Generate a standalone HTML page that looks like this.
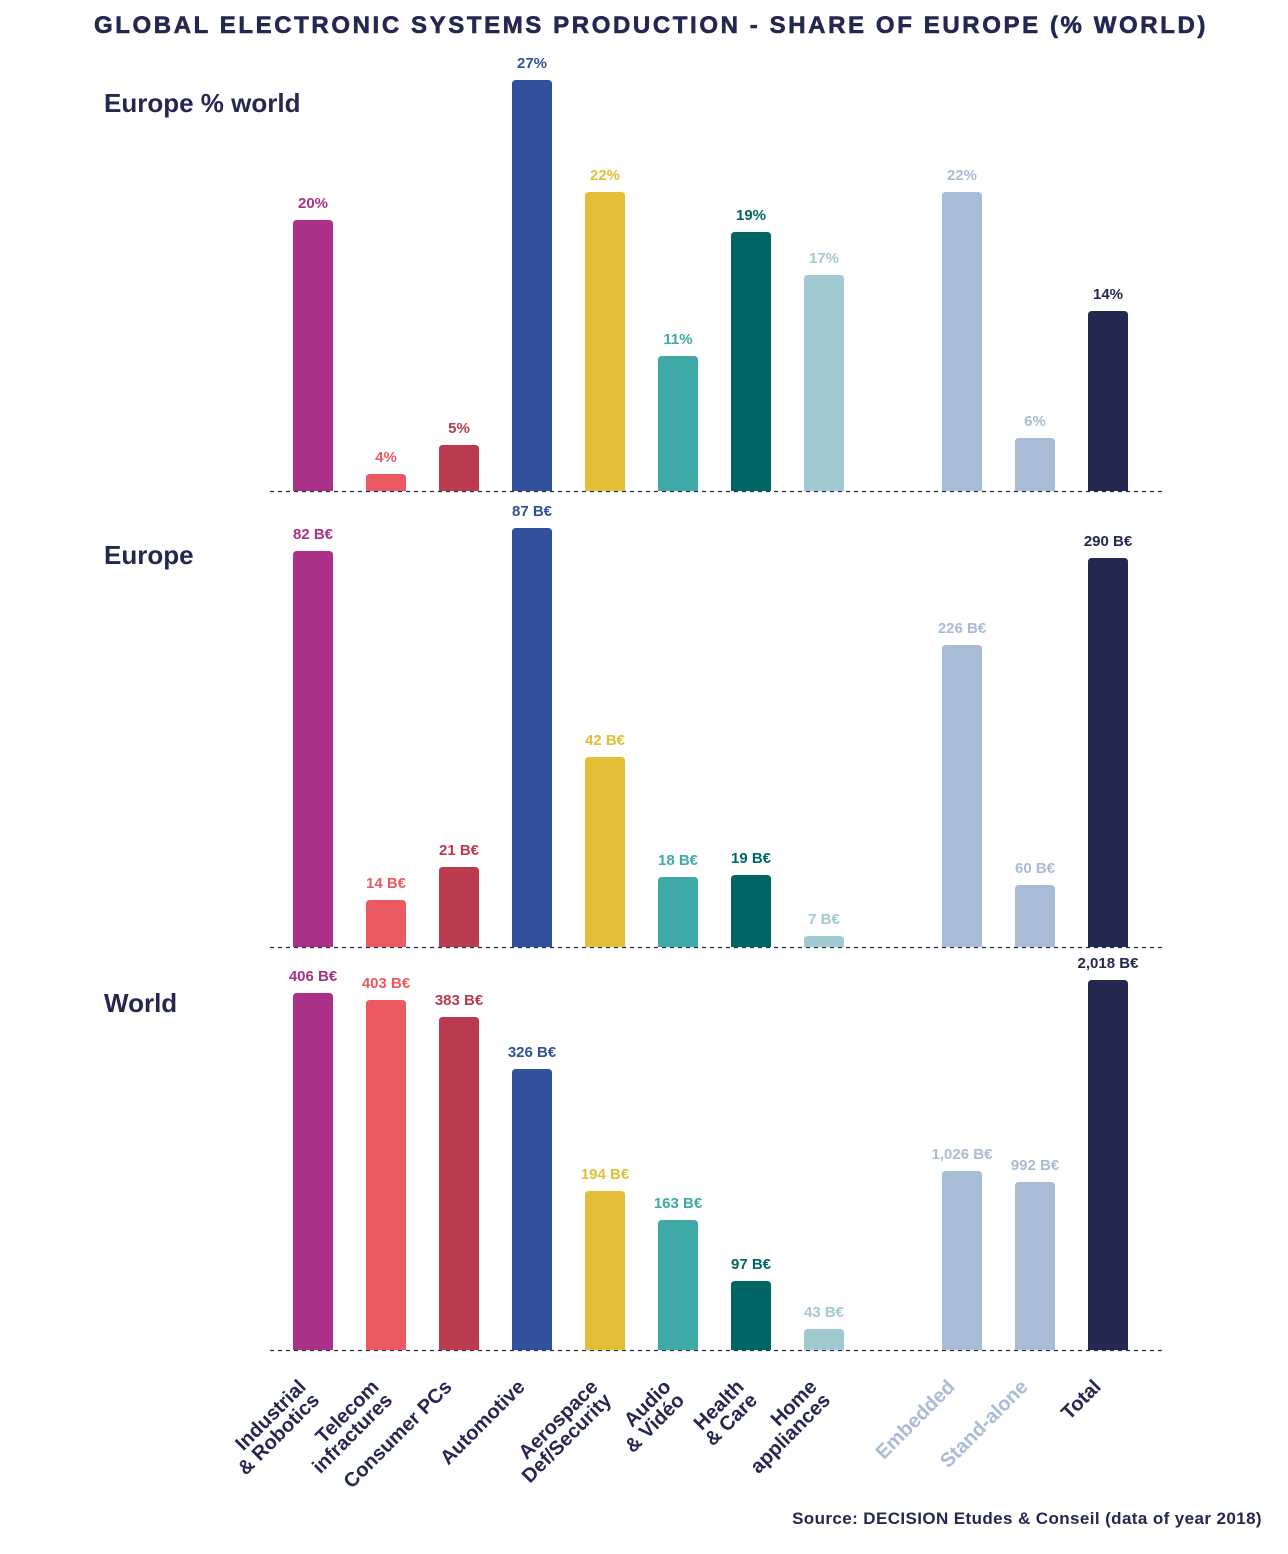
<!DOCTYPE html>
<html><head><meta charset="utf-8"><style>
html,body{margin:0;padding:0;background:#fff;}
svg{display:block;font-family:"Liberation Sans",sans-serif;}
</style></head><body>
<svg width="1288" height="1554" viewBox="0 0 1288 1554" xmlns="http://www.w3.org/2000/svg">
<text x="651" y="33" text-anchor="middle" font-size="24" font-weight="900" fill="#232851" letter-spacing="2.6" stroke="#232851" stroke-width="0.6">GLOBAL ELECTRONIC SYSTEMS PRODUCTION - SHARE OF EUROPE (% WORLD)</text>
<text x="104" y="112" font-size="26" font-weight="bold" fill="#232851">Europe % world</text>
<text x="104" y="564" font-size="26" font-weight="bold" fill="#232851">Europe</text>
<text x="104" y="1012" font-size="26" font-weight="bold" fill="#232851">World</text>
<g stroke="#232851" stroke-width="1.3" stroke-dasharray="4,4">
<line x1="270" y1="491.5" x2="1162" y2="491.5"/>
<line x1="270" y1="947.5" x2="1162" y2="947.5"/>
<line x1="270" y1="1350.5" x2="1162" y2="1350.5"/>
</g>
<g id="bars" font-size="15" font-weight="bold" text-anchor="middle"></g>
<g font-size="20" font-weight="bold" fill="#232851" text-anchor="end" id="labels"></g>
<text x="1262" y="1524" text-anchor="end" font-size="17" font-weight="bold" fill="#232851" letter-spacing="0.4">Source: DECISION Etudes &amp; Conseil (data of year 2018)</text>
</svg>
<script>
var xs=[313,386,459,532,605,678,751,824,962,1035,1108];
var cols=["#ab3088","#ea5a60","#b93b4d","#31519c","#e2bf36","#3ea9a6","#006663","#a1cad0","#a9bcd5","#a9bcd5","#232851"];
var panels=[
{b:491,t:[220,474,445,80,192,356,232,275,192,438,311],l:["20%","4%","5%","27%","22%","11%","19%","17%","22%","6%","14%"]},
{b:947,t:[551,900,867,528,757,877,875,936,645,885,558],l:["82 B€","14 B€","21 B€","87 B€","42 B€","18 B€","19 B€","7 B€","226 B€","60 B€","290 B€"]},
{b:1350,t:[993,1000,1017,1069,1191,1220,1281,1329,1171,1182,980],l:["406 B€","403 B€","383 B€","326 B€","194 B€","163 B€","97 B€","43 B€","1,026 B€","992 B€","2,018 B€"]}];
var g=document.getElementById("bars"),s="";
panels.forEach(function(p){for(var i=0;i<11;i++){var x=xs[i]-20,t=p.t[i],r=4;
s+='<path d="M'+x+','+p.b+'V'+(t+r)+'Q'+x+','+t+' '+(x+r)+','+t+'H'+(x+40-r)+'Q'+(x+40)+','+t+' '+(x+40)+','+(t+r)+'V'+p.b+'Z" fill="'+cols[i]+'"/>';
s+='<text x="'+xs[i]+'" y="'+(t-12)+'" fill="'+cols[i]+'">'+p.l[i]+'</text>';}});
g.innerHTML=s;
var labs=[["Industrial","& Robotics"],["Telecom","infractures"],["Consumer PCs"],["Automotive"],["Aerospace","Def/Security"],["Audio","& Vidéo"],["Health","& Care"],["Home","appliances"],["Embedded"],["Stand-alone"],["Total"]];
var lc=["#232851","#232851","#232851","#232851","#232851","#232851","#232851","#232851","#a9bcd5","#a9bcd5","#232851"];
var L="";
for(var i=0;i<11;i++){var x=xs[i]-6,y=1388;
L+='<g transform="translate('+x+','+y+') rotate(-45)" fill="'+lc[i]+'">';
labs[i].forEach(function(t,j){L+='<text x="0" y="'+(j*19)+'">'+t.replace("&","&amp;")+'</text>';});
L+='</g>';}
document.getElementById("labels").innerHTML=L;
</script>
</body></html>
